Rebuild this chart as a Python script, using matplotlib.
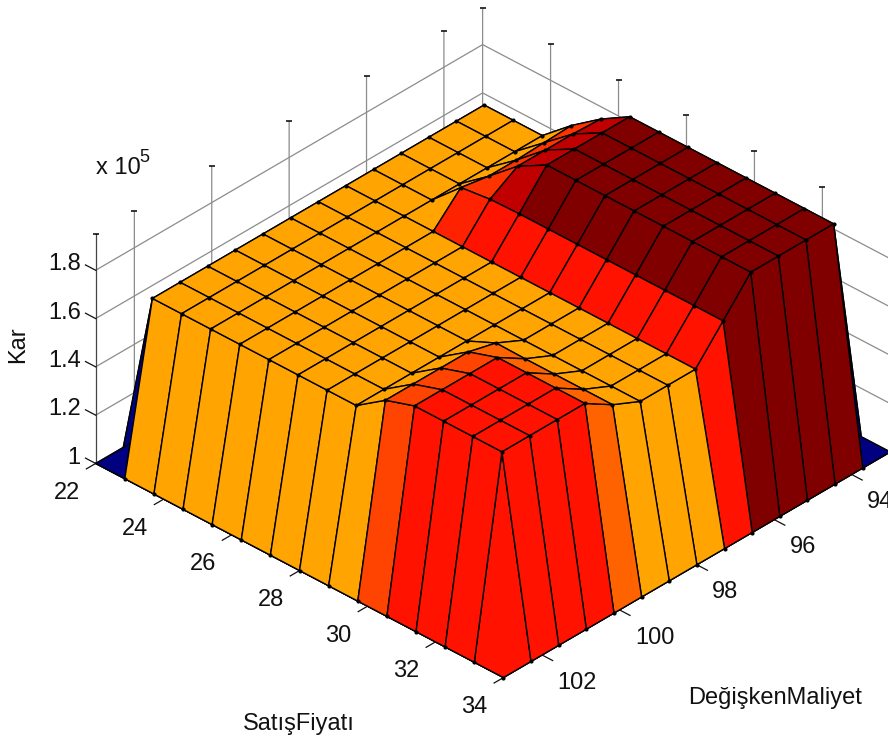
import numpy as np
import matplotlib
matplotlib.use("Agg")
import matplotlib.pyplot as plt
from matplotlib.colors import LinearSegmentedColormap, Normalize

plt.rcParams['font.family'] = ['Liberation Sans', 'DejaVu Sans']

satis_fiyati = np.linspace(22, 34, 15)
degisken_maliyet = np.linspace(93, 103, 15)
x_ticks = [22, 24, 26, 28, 30, 32, 34]
y_ticks = [94, 96, 98, 100, 102]
z_ticks = [1.0, 1.2, 1.4, 1.6, 1.8]
z_ticklabels = ['1', '1.2', '1.4', '1.6', '1.8']

# Kar (x 10^5): rows = SatisFiyati index, columns = DegiskenMaliyet index
BASE, ORG, RED, DRK = 1.0, 1.68, 1.805, 1.948
kar = [
 [BASE]*15,
 [BASE]+[ORG]*13+[BASE],
 [BASE]+[ORG]*13+[BASE],
 [BASE]+[ORG]*13+[BASE],
 [BASE,1.785,1.78,1.775,1.775,1.795]+[ORG]*8+[BASE],
 [BASE,1.875,1.88,1.88,1.88,1.81]+[ORG]*8+[BASE],
 [BASE,DRK,DRK,DRK,DRK,1.813]+[ORG]*8+[BASE],
 [BASE,DRK,DRK,DRK,DRK,1.813]+[ORG]*8+[BASE],
 [BASE,DRK,DRK,DRK,DRK,1.813]+[ORG]*8+[BASE],
 [BASE,DRK,DRK,DRK,DRK,1.813,ORG,ORG,ORG,1.735,1.765,1.765,1.765,1.765,BASE],
 [BASE,DRK,DRK,DRK,DRK,1.813,ORG,ORG,ORG,1.733,RED,RED,RED,RED,BASE],
 [BASE,DRK,DRK,DRK,DRK,1.813,ORG,ORG,ORG,1.733,RED,RED,RED,RED,BASE],
 [BASE,DRK,DRK,DRK,DRK,1.813,ORG,ORG,ORG,1.733,RED,RED,RED,RED,BASE],
 [BASE,DRK,DRK,DRK,DRK,1.813,ORG,ORG,ORG,1.733,RED,RED,RED,RED,BASE],
 [BASE]*15,
]
kar = np.array(kar)

FW, FH = 888, 744
fig = plt.figure(figsize=(FW/100, FH/100), dpi=100, facecolor='white')
W = 849.0
cx, cy = 493.0, 401.0
ax = fig.add_axes([(cx-0.5135*W)/FW, (cy-0.5135*W)/FH, W/FW, W/FH], projection='3d',
                  proj_type='ortho', computed_zorder=False)
ax.patch.set_alpha(0)
ax.view_init(elev=33.6, azim=-46.5)
ax.set_box_aspect((1, 1, 0.49), zoom=0.962)

jet64 = LinearSegmentedColormap.from_list('jet64', [
    (0.0, (0, 0, .5)), (.125, (0, 0, 1)), (.375, (0, 1, 1)),
    (.625, (1, 1, 0)), (.875, (1, 0, 0)), (1.0, (.5, 0, 0))], N=64)
norm = Normalize(kar.min(), kar.max())

X, Y = np.meshgrid(satis_fiyati, degisken_maliyet, indexing='ij')
surf = ax.plot_surface(X, Y, kar, rstride=1, cstride=1, facecolors=jet64(norm(kar)),
                       shade=False, antialiased=True, zorder=3)
surf.set_edgecolor('black')
surf.set_linewidth(1.0)

# node dots
mask = np.ones_like(kar, dtype=bool)
mask[0, :] = False
mask[:, 0] = False
ax.plot(X[mask], Y[mask], kar[mask], ls='none', marker='o', ms=3.0, color='black', mew=0, zorder=4)

ax.set_xlim(22, 34, view_margin=0)
ax.set_ylim(103, 93, view_margin=0)
ax.set_zlim(1.0, 1.95, view_margin=0)
ax.set_xticks(x_ticks)
ax.set_yticks(y_ticks)
ax.set_zticks(z_ticks)
ax.set_zticklabels(z_ticklabels)
ax.tick_params(axis='both', labelsize=17, colors='#111111')
ax.tick_params(axis='x', pad=5)
ax.tick_params(axis='y', pad=4)
ax.tick_params(axis='z', pad=-2)
for t in ax.xaxis.get_ticklabels():
    t.set_ha('right')
for t in ax.yaxis.get_ticklabels():
    t.set_ha('left')
for t in ax.zaxis.get_ticklabels():
    t.set_ha('right')
    t.set_va('baseline')

for a in (ax.xaxis, ax.yaxis, ax.zaxis):
    a.set_pane_color((1, 1, 1, 0))
    a.pane.set_edgecolor((1, 1, 1, 0))
    a._axinfo['grid'].update(color='#8c8c8c', linewidth=0.9)
    a._axinfo['tick'].update(inward_factor=0.0, outward_factor=0.0)
    a._axinfo['axisline']['color'] = (0.15, 0.15, 0.15, 1)
    a.line.set_linewidth(0.9)
ax.zaxis._axinfo['juggled'] = (1, 0, 2)

TK = dict(color='#111111', lw=0.9, zorder=2)
for xt in x_ticks:
    ax.plot([xt, xt], [103, 103.24], [1.0, 1.0], **TK)
for yt in y_ticks:
    ax.plot([34, 34.31], [yt, yt], [1.0, 1.0], **TK)
for zt in z_ticks:
    ax.plot([22, 21.7], [103, 103], [zt, zt], **TK)
ax.plot([22, 22], [103, 103], [1.0, 1.95], color='#444444', lw=0.9, zorder=1)
ax.plot([22, 34], [103, 103], [1.0, 1.0], color='#111111', lw=0.9, zorder=2)
ax.plot([34, 34], [103, 93], [1.0, 1.0], color='#111111', lw=0.9, zorder=2)

# short tick marks at top of the vertical grid lines
top_x = np.array(x_ticks[:-1], float)
ax.plot(top_x, np.full_like(top_x, 93.0), np.full_like(top_x, 1.95), ls='none', marker='_', ms=5, mew=1.1, color='black', zorder=1)
top_y = np.array(y_ticks + [103], float)
ax.plot(np.full_like(top_y, 22.0), top_y, np.full_like(top_y, 1.95), ls='none', marker='_', ms=5, mew=1.1, color='black', zorder=1)

fig.text(299/FW, 1-724/FH, 'SatışFiyatı', ha='center', va='center', fontsize=17, color='#111111')
fig.text(775/FW, 1-698/FH, 'DeğişkenMaliyet', ha='center', va='center', fontsize=17, color='#111111')
fig.text(18/FW, 1-345/FH, 'Kar', rotation=90, ha='center', va='center', fontsize=17, color='#111111')
fig.text(96/FW, 1-174/FH, 'x 10', ha='left', va='baseline', fontsize=17, color='#111111')
fig.text(139/FW, 1-162/FH, '5', ha='left', va='baseline', fontsize=13, color='#111111')

fig.savefig('out.png', dpi=100)
